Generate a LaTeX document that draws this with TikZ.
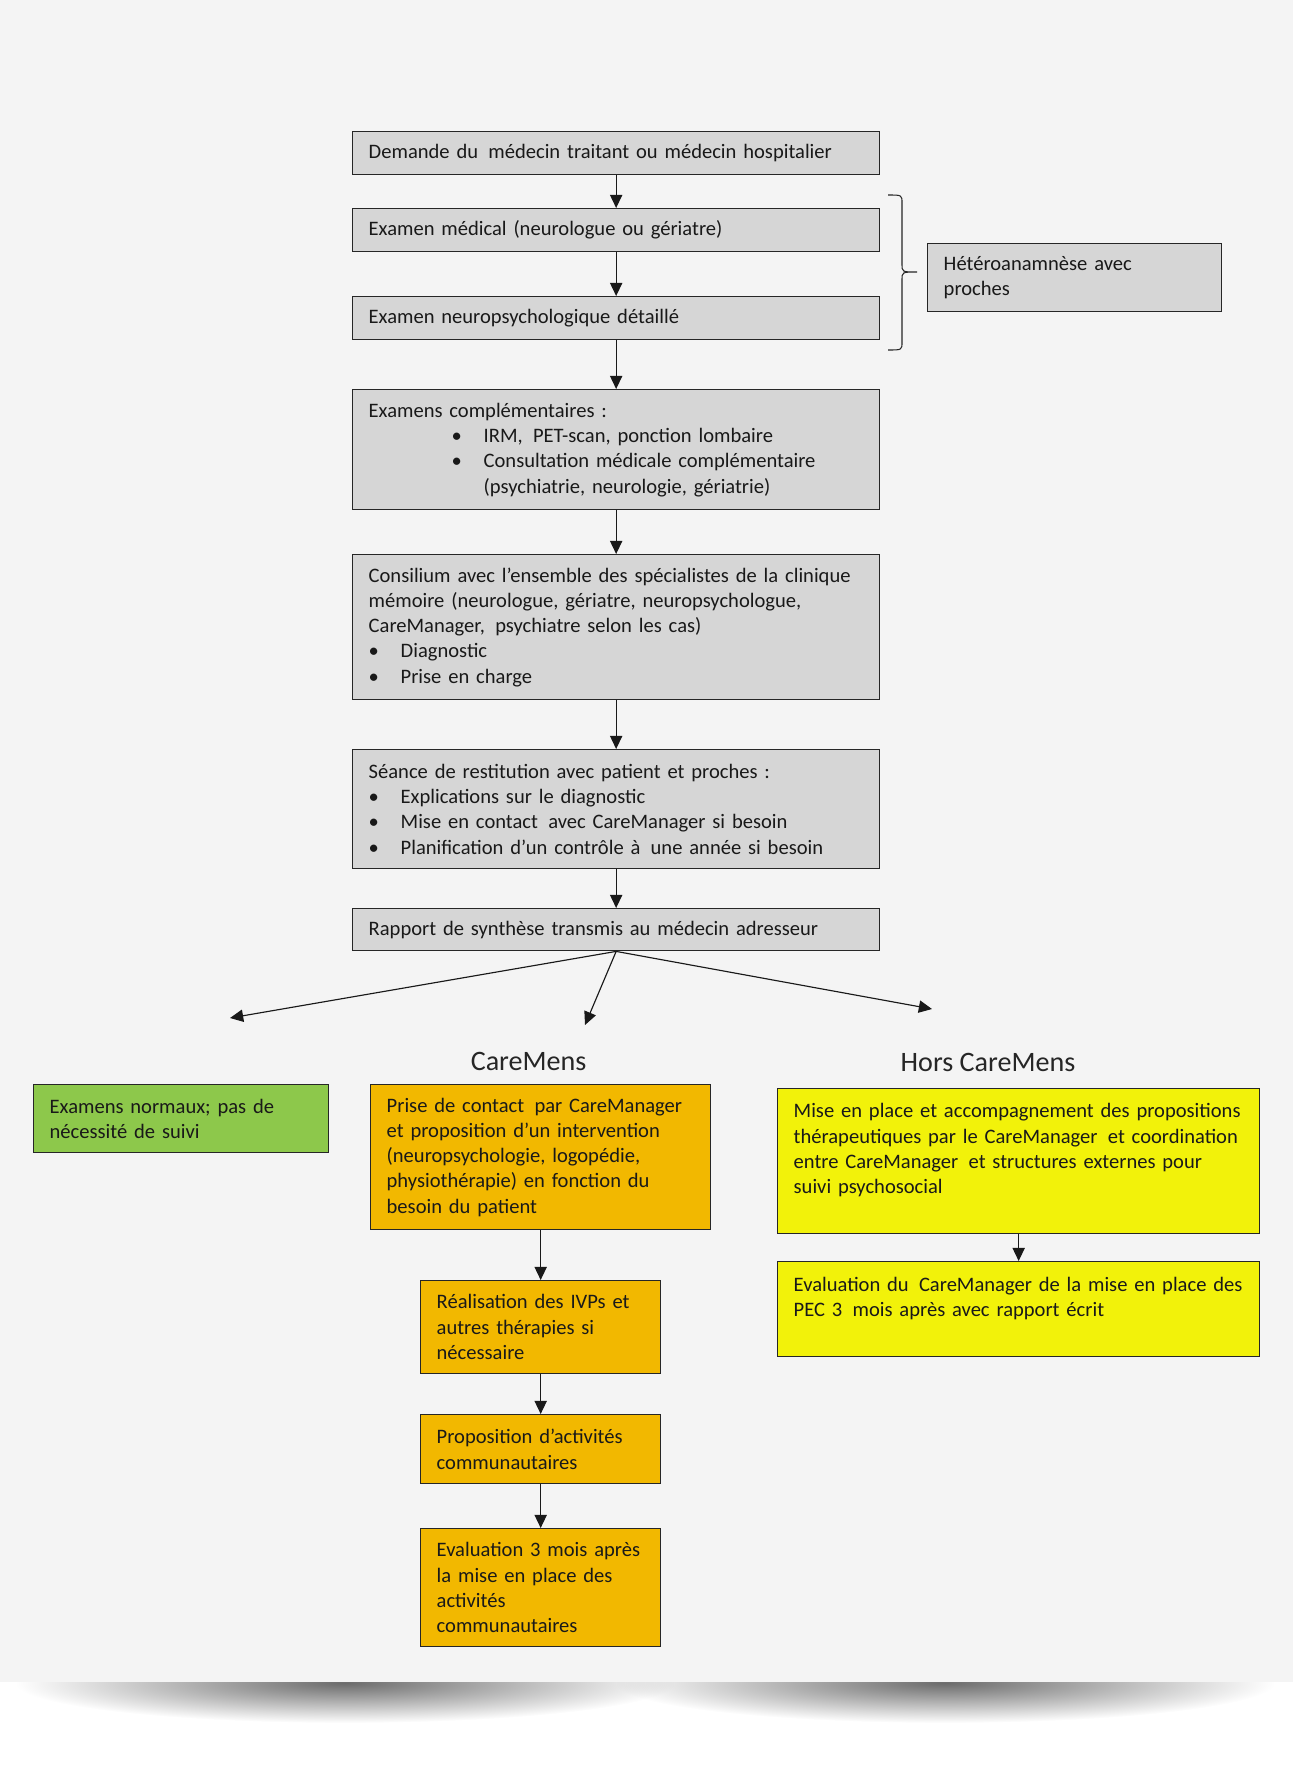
\documentclass[tikz,border=0pt]{standalone}
\usepackage{fontspec}
\setmainfont{Carlito}
\usetikzlibrary{arrows.meta,calc}
\definecolor{fondgris}{HTML}{F4F4F4}
\definecolor{boitegris}{HTML}{D6D6D6}
\definecolor{boitevert}{HTML}{8DC84B}
\definecolor{boiteorange}{HTML}{F2B800}
\definecolor{boitejaune}{HTML}{F2F20A}
\tikzset{
    boite/.style={draw=black!85, line width=0.8pt, fill=boitegris, text=black!90,
      align=left, inner xsep=0.32cm, inner ysep=0pt, anchor=north west,
      font=\fontsize{11.7}{14.4}\selectfont},
    titre/.style={text=black!85, font=\fontsize{16}{19}\selectfont},
    fleche/.style={-{Triangle[length=7.5pt,width=7pt]}, line width=0.65pt, draw=black!90},
  }
\newcommand{\puce}{\makebox[0.64cm][l]{\textbullet}}

\begin{document}
\begin{tikzpicture}[x=0.02cm,y=-0.02cm]
  \useasboundingbox (0,0) rectangle (1293,1765);
  %fond et ombre
  \fill[fondgris] (0,0) rectangle (1293,1682);
  \begin{scope}
    \clip (0,1682) rectangle (1293,1765);
    \shade[inner color=black!58, outer color=white, blend mode=multiply] (345,1683) ellipse [x radius=330, y radius=40];
    \shade[inner color=black!58, outer color=white, blend mode=multiply] (945,1683) ellipse [x radius=330, y radius=40];
  \end{scope}

  %colonne principale
  \node[boite, text width=9.9cm, minimum height=0.86cm] (demande) at (352,131)
    {Demande du\, médecin traitant ou médecin hospitalier};
  \node[boite, text width=9.9cm, minimum height=0.86cm] (examMed) at (352,208)
    {Examen médical (neurologue ou gériatre)};
  \node[boite, text width=9.9cm, minimum height=0.86cm] (examNeuro) at (352,296)
    {Examen neuropsychologique détaillé};
  \node[boite, text width=9.9cm, minimum height=2.4cm] (examCompl) at (352,389)
    {Examens complémentaires :\\
     \hspace*{1.66cm}\puce IRM,\, PET-scan, ponction lombaire\\
     \hspace*{1.66cm}\puce Consultation médicale complémentaire\\
     \hspace*{2.3cm}(psychiatrie, neurologie, gériatrie)};
  \node[boite, text width=9.9cm, minimum height=2.9cm] (consilium) at (352,554)
    {Consilium avec l’ensemble des spécialistes de la clinique\\
     mémoire (neurologue, gériatre, neuropsychologue,\\
     CareManager,\, psychiatre selon les cas)\\
     \puce Diagnostic\\
     \puce Prise en charge};
  \node[boite, text width=9.9cm, minimum height=2.38cm] (seance) at (352,749)
    {Séance de restitution avec patient et proches :\\
     \puce Explications sur le diagnostic\\
     \puce Mise en contact\, avec CareManager si besoin\\
     \puce Planification d’un contrôle à\, une année si besoin};
  \node[boite, text width=9.9cm, minimum height=0.84cm] (rapport) at (352,908)
    {Rapport de synthèse transmis au médecin adresseur};

  %heteroanamnese et accolade
  \node[boite, text width=5.24cm, minimum height=1.36cm] (hetero) at (927,243)
    {Hétéroanamnèse avec\\proches};
  \coordinate (accH) at (888,195);
  \coordinate (accB) at (888,350);
  \coordinate (accP) at (917,272);
  \draw[line width=0.6pt, black!85] (accH) .. controls (902,195) .. (902,203) -- (902,264)
    .. controls (902,272) .. (accP) .. controls (902,272) .. (902,280) -- (902,342)
    .. controls (902,350) .. (accB);

  %fleches verticales
  \draw[fleche] (demande.south) -- (demande.south |- examMed.north);
  \draw[fleche] (examMed.south) -- (examMed.south |- examNeuro.north);
  \draw[fleche] (examNeuro.south) -- (examNeuro.south |- examCompl.north);
  \draw[fleche] (examCompl.south) -- (examCompl.south |- consilium.north);
  \draw[fleche] (consilium.south) -- (consilium.south |- seance.north);
  \draw[fleche] (seance.south) -- (seance.south |- rapport.north);

  %trois branches
  \coordinate (brG) at (230,1018);
  \coordinate (brM) at (585,1025);
  \coordinate (brD) at (932,1009);
  \draw[fleche] (rapport.south) -- (brG);
  \draw[fleche] (rapport.south) -- (brM);
  \draw[fleche] (rapport.south) -- (brD);

  \node[titre] (titreCM) at (528.6,1061) {CareMens};
  \node[titre] (titreHors) at (988,1062) {Hors CareMens};

  %normal
  \node[boite, fill=boitevert, text width=5.26cm, minimum height=1.36cm] (normal) at (33,1084)
    {Examens normaux; pas de\\nécessité de suivi};

  %CareMens
  \node[boite, fill=boiteorange, text width=6.16cm, minimum height=2.9cm] (contact) at (370,1084)
    {Prise de contact\, par CareManager\\
     et proposition d’un intervention\\
     (neuropsychologie, logopédie,\\
     physiothérapie) en fonction du\\
     besoin du patient};
  \node[boite, fill=boiteorange, text width=4.16cm, minimum height=1.86cm] (ivp) at (420,1280)
    {Réalisation des IVPs et\\autres thérapies si\\nécessaire};
  \node[boite, fill=boiteorange, text width=4.16cm, minimum height=1.38cm] (activites) at (420,1414)
    {Proposition d’activités\\communautaires};
  \node[boite, fill=boiteorange, text width=4.16cm, minimum height=2.36cm] (eval) at (420,1528)
    {Evaluation 3 mois après\\la mise en place des\\activités\\communautaires};
  \draw[fleche] (contact.south) -- (contact.south |- ivp.north);
  \draw[fleche] (ivp.south) -- (activites.north);
  \draw[fleche] (activites.south) -- (eval.north);

  %hors CareMens
  \node[boite, fill=boitejaune, text width=9.0cm, minimum height=2.9cm] (miseplace) at (777,1088)
    {Mise en place et accompagnement des propositions\\
     thérapeutiques par le CareManager\, et coordination\\
     entre CareManager\, et structures externes pour\\
     suivi psychosocial\\ \mbox{}};
  \node[boite, fill=boitejaune, text width=9.0cm, minimum height=1.9cm] (evalCM) at (777,1261)
    {Evaluation du\, CareManager de la mise en place des\\
     PEC 3\, mois après avec rapport écrit\\ \mbox{}};
  \draw[fleche] (miseplace.south) -- (evalCM.north);
\end{tikzpicture}
\end{document}
